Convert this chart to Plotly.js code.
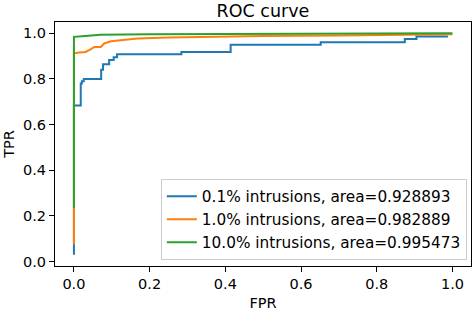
<!DOCTYPE html>
<html>
<head>
<meta charset="utf-8">
<script src="https://cdn.plot.ly/plotly-3.0.1.min.js"></script>
<style>
    html, body { margin: 0; padding: 0; background: white; }
    #roc { width: 473px; height: 322px; }
</style>
</head>
<body>
<div id="roc"></div>
<script>
// ROC curves, one per intrusion rate
var fpr01 = [0, 0, 0.018, 0.018, 0.021, 0.021, 0.026, 0.026, 0.072, 0.072, 0.077, 0.077,
    0.093, 0.093, 0.105, 0.105, 0.114, 0.114, 0.284, 0.284, 0.414, 0.414, 0.652, 0.652,
    0.874, 0.874, 0.905, 0.905, 0.988];
var tpr01 = [0.03, 0.684, 0.684, 0.78, 0.78, 0.79, 0.79, 0.80, 0.80, 0.84, 0.84, 0.864,
    0.864, 0.883, 0.883, 0.895, 0.895, 0.908, 0.908, 0.918, 0.918, 0.949, 0.949, 0.96,
    0.96, 0.975, 0.975, 0.986, 0.986];

var fpr1 = [0, 0, 0.014, 0.031, 0.045, 0.054, 0.071, 0.080, 0.098, 0.133, 0.168, 0.25,
    0.35, 0.5, 0.7, 0.9, 1.0];
var tpr1 = [0.075, 0.912, 0.915, 0.918, 0.93, 0.94, 0.94, 0.955, 0.965, 0.972, 0.977, 0.981,
    0.985, 0.988, 0.99, 0.993, 0.995];

var fpr10 = [0, 0, 0.03, 0.07, 0.2, 0.5, 1.0];
var tpr10 = [0.236, 0.984, 0.988, 0.993, 0.995, 0.997, 1.0];

var names = [
    "0.1% intrusions, area=0.928893",
    "1.0% intrusions, area=0.982889",
    "10.0% intrusions, area=0.995473",
];
var colors = ["#1f77b4", "#ff7f0e", "#2ca02c"];

function makeTrace(x, y, i) {
    return {
        x: x,
        y: y,
        type: "scatter",
        mode: "lines",
        name: names[i],
        line: { color: colors[i], width: 2 },
    };
}

var data = [
    makeTrace(fpr01, tpr01, 0),
    makeTrace(fpr1, tpr1, 1),
    makeTrace(fpr10, tpr10, 2),
];

var font = "DejaVu Sans, sans-serif";

var axisBase = {
    showgrid: false,
    zeroline: false,
    showline: true,
    mirror: true,
    linecolor: "black",
    linewidth: 1,
    ticks: "outside",
    ticklen: 5,
    tickcolor: "black",
    tickfont: { family: font, size: 14.5, color: "black" },
    tickformat: ".1f",
    dtick: 0.2,
};

var layout = {
    width: 473,
    height: 322,
    margin: { l: 55, r: 2, t: 22, b: 56 },
    paper_bgcolor: "white",
    plot_bgcolor: "white",
    title: {
        text: "ROC curve",
        font: { family: font, size: 17.5, color: "black" },
        x: 0.556,
        xanchor: "center",
        y: 0.965,
        yanchor: "middle",
    },
    showlegend: true,
    legend: {
        x: 0.99,
        xanchor: "right",
        y: 0.025,
        yanchor: "bottom",
        bgcolor: "rgba(255,255,255,0.8)",
        bordercolor: "#cccccc",
        borderwidth: 1,
        font: { family: font, size: 15.3, color: "black" },
    },
    xaxis: Object.assign({}, axisBase, {
        range: [-0.05, 1.049],
        title: { text: "FPR", font: { family: font, size: 14.5, color: "black" }, standoff: 6 },
    }),
    yaxis: Object.assign({}, axisBase, {
        range: [-0.019, 1.049],
        title: { text: "TPR", font: { family: font, size: 14.5, color: "black" }, standoff: 4 },
    }),
};

Plotly.newPlot("roc", data, layout, { displayModeBar: false, staticPlot: true });
</script>
</body>
</html>
